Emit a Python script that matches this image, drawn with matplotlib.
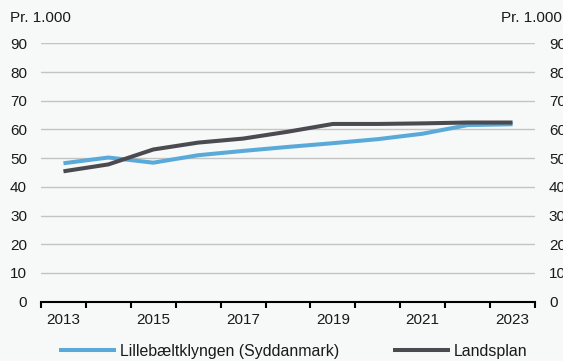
import numpy as np
import matplotlib
matplotlib.use("Agg")
import matplotlib.pyplot as plt

# Data
years = [2013, 2014, 2015, 2016, 2017, 2018, 2019, 2020, 2021, 2022, 2023]
lillebaelt = [48.2, 50.2, 48.4, 51.0, 52.5, 53.9, 55.2, 56.6, 58.5, 61.5, 61.8]
landsplan = [45.4, 47.8, 53.0, 55.4, 56.8, 59.2, 61.9, 61.9, 62.1, 62.4, 62.4]
yticks = [0, 10, 20, 30, 40, 50, 60, 70, 80, 90]
unit_label = "Pr. 1.000"

col_blue = "#5aaad9"
col_dark = "#4a4a50"
bg = "#f7f8f8"
txt = "#1a1a1a"

plt.rcParams['font.family'] = ['Liberation Sans', 'DejaVu Sans']
plt.rcParams['font.size'] = 11

fig = plt.figure(figsize=(5.63, 3.61), dpi=100, facecolor=bg)
ax = fig.add_axes([41/563, 1 - 301.6/361, (535 - 41)/563, (301.6 - 43.3)/361])
ax.set_facecolor(bg)

x = np.arange(len(years))
ax.plot(x, lillebaelt, color=col_blue, lw=2.9, solid_capstyle='butt',
        label="Lillebæltklyngen (Syddanmark)")
ax.plot(x, landsplan, color=col_dark, lw=2.9, solid_capstyle='butt',
        label="Landsplan")

ax.set_xlim(-0.5, len(years) - 0.5)
ax.set_ylim(0, 90)
ax.set_yticks(yticks)
ax.yaxis.grid(True, color="#c4c4c4", lw=1)
ax.set_axisbelow(True)
for s in ["top", "right", "left"]:
    ax.spines[s].set_visible(False)
ax.spines["bottom"].set_color("black")
ax.spines["bottom"].set_linewidth(1.5)

ax.tick_params(axis="y", length=0, pad=10, labelright=True, colors=txt)
ax.set_xticks(x[::2])
ax.set_xticklabels([str(y) for y in years[::2]])
ax.set_xticks(np.arange(len(years) + 1) - 0.5, minor=True)
ax.tick_params(axis="x", which="major", length=0, pad=8, colors=txt)
ax.tick_params(axis="x", which="minor", length=4, width=1.5, direction="out")

fig.text(10/563, 1 - 18/361, unit_label, ha="left", va="center", color=txt)
fig.text(501/563, 1 - 18/361, unit_label, ha="left", va="center", color=txt)

fig.legend(loc="center", bbox_to_anchor=(293/563, 1 - 351.5/361), ncol=2, frameon=False,
           handlelength=3.6, columnspacing=3.4, handletextpad=0.25,
           fontsize=11.4, labelcolor=txt)

fig.savefig("out.png", dpi=100, facecolor=bg)
